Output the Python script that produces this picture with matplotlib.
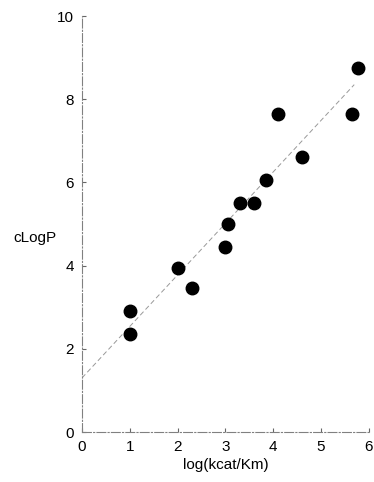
import numpy as np
import matplotlib.pyplot as plt

plt.rcParams['font.family'] = ['Liberation Sans', 'DejaVu Sans']

# data
log_kcat_km = [1.0, 1.0, 2.0, 2.3, 3.0, 3.05, 3.3, 3.6, 3.85, 4.1, 4.6, 5.65, 5.78]
clogp = [2.9, 2.35, 3.95, 3.45, 4.45, 5.0, 5.5, 5.5, 6.05, 7.65, 6.6, 7.65, 8.75]

# regression line endpoints
fit_x = [0.0, 5.7]
fit_y = [1.3, 8.35]

fig = plt.figure(figsize=(3.74, 4.82), dpi=100)
ax = fig.add_axes([82/374, 50/482, 288/374, 416/482])

ax.plot(fit_x, fit_y, color='0.6', lw=0.7, ls=(0, (5, 3)), zorder=1)
ax.plot(log_kcat_km, clogp, 'o', color='black', markersize=9, zorder=2)

ax.set_xlim(0, 6.03)
ax.set_ylim(0, 10)
ax.set_xticks([0, 1, 2, 3, 4, 5, 6])
ax.set_yticks([0, 2, 4, 6, 8, 10])

for s in ['top', 'right']:
    ax.spines[s].set_visible(False)
for s in ['left', 'bottom']:
    ax.spines[s].set_color('0.5')
    ax.spines[s].set_linewidth(0.8)
    ax.spines[s].set_linestyle((0, (8, 2, 1, 2)))

ax.tick_params(direction='in', length=3, width=0.8, color='0.4',
               labelsize=11, pad=6)

ax.set_xlabel('log(kcat/Km)', fontsize=11, labelpad=3)
ax.set_ylabel('cLogP', fontsize=11, rotation=0, labelpad=0)
ax.yaxis.set_label_coords(-0.165, 0.45)

fig.savefig('out.png', dpi=100)
